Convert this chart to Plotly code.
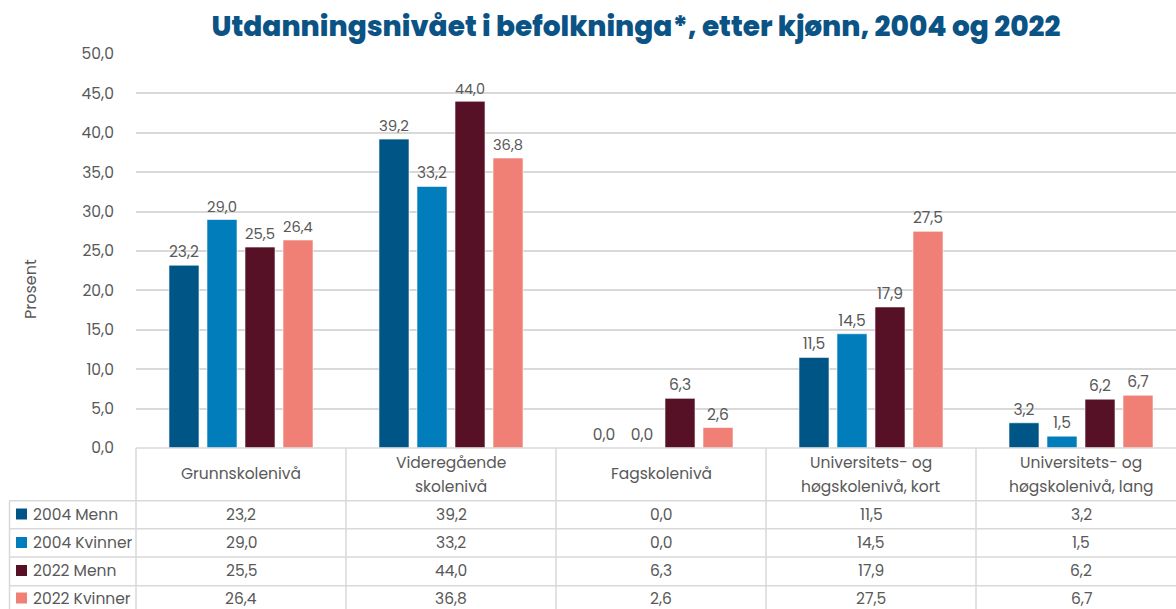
import plotly.graph_objects as go

# ---------------- data ----------------
categories = ["Grunnskolenivå", "Videregående skolenivå", "Fagskolenivå",
              "Universitets- og høgskolenivå, kort", "Universitets- og høgskolenivå, lang"]
header_lines = [["Grunnskolenivå"], ["Videregående", "skolenivå"], ["Fagskolenivå"],
                ["Universitets- og", "høgskolenivå, kort"], ["Universitets- og", "høgskolenivå, lang"]]
series_names = ["2004 Menn", "2004 Kvinner", "2022 Menn", "2022 Kvinner"]
menn_2004 = [23.2, 39.2, 0.0, 11.5, 3.2]
kvinner_2004 = [29.0, 33.2, 0.0, 14.5, 1.5]
menn_2022 = [25.5, 44.0, 6.3, 17.9, 6.2]
kvinner_2022 = [26.4, 36.8, 2.6, 27.5, 6.7]
series_values = [menn_2004, kvinner_2004, menn_2022, kvinner_2022]
colors = ["#005587", "#007DBA", "#561127", "#F08075"]

title_text = "Utdanningsnivået i befolkninga*, etter kjønn, 2004 og 2022"

# ---------------- layout geometry (pixels) ----------------
W, H = 1176, 609
L, T = 136, 54
PB = 448               # bottom of plot area (y=0)
PW = W - L
PH = PB - T
CAT_W = 210            # px per category

FONT = "Poppins, Open Sans, sans-serif"
TXT = "#595959"
GRID = "#d9d9d9"
FS = 15.5


def px_x(px):
    return (px - L) / PW


def px_y(py):
    return (PB - py) / PH


fig = go.Figure()
for name, vals, col in zip(series_names, series_values, colors):
    fig.add_trace(go.Bar(
        name=name, x=categories, y=vals,
        marker=dict(color=col, line=dict(color="rgba(255,255,255,0.6)", width=1)),
        texttemplate="%{y:.1f}", textposition="outside",
        textfont=dict(family=FONT, size=FS, color=TXT),
        cliponaxis=False,
    ))

n_visible = PW / CAT_W
fig.update_layout(
    width=W, height=H,
    margin=dict(l=L, r=0, t=T, b=H - PB),
    paper_bgcolor="white", plot_bgcolor="white",
    barmode="group", bargap=0.276, bargroupgap=0.21,
    showlegend=False,
    separators=", ",
    font=dict(family=FONT, color=TXT, size=FS),
    title=dict(text=title_text, x=636 / W, xanchor="center",
               y=1 - 26 / H, yanchor="middle",
               font=dict(family="Poppins, Open Sans, sans-serif", size=28, weight=800,
                         color="#0B5385")),
    xaxis=dict(type="category", range=[-0.5, -0.5 + n_visible], showticklabels=False,
               showgrid=False, zeroline=False, showline=False, fixedrange=True),
    yaxis=dict(range=[0, 50], dtick=5, tickformat=".1f", showgrid=True,
               gridcolor=GRID, gridwidth=1.5, zeroline=False, showline=False,
               ticks="outside", ticklen=18, tickcolor="rgba(0,0,0,0)",
               tickfont=dict(family=FONT, size=FS, color=TXT)),
)

# y axis title
fig.add_annotation(text="Prosent", xref="paper", yref="paper", x=px_x(30), y=px_y(289),
                   xanchor="center", yanchor="middle",
                   textangle=-90, showarrow=False,
                   font=dict(family=FONT, size=16, color=TXT))

# ---------------- data table ----------------
row_lines = [500.7, 528.7, 557, 585.7]
row_centers = [514, 542.5, 570.5, 598]
line_style = dict(color=GRID, width=1.5)

fig.add_shape(type="line", xref="paper", yref="paper", x0=0, x1=1, y0=0, y1=0, line=line_style)
for yl in row_lines:
    fig.add_shape(type="line", xref="paper", yref="paper", x0=px_x(9.5), x1=1,
                  y0=px_y(yl), y1=px_y(yl), line=line_style)
fig.add_shape(type="line", xref="paper", yref="paper", x0=px_x(9.5), x1=px_x(9.5),
              y0=px_y(row_lines[0]), y1=px_y(H + 2), line=line_style)
for k in range(len(categories)):
    xp = L + k * CAT_W
    if xp < W:
        fig.add_shape(type="line", xref="paper", yref="paper", x0=px_x(xp), x1=px_x(xp),
                      y0=0, y1=px_y(H + 2), line=line_style)

# header row (category labels)
for k, lines in enumerate(header_lines):
    cx = L + (k + 0.5) * CAT_W
    ys = [473] if len(lines) == 1 else [462, 486]
    for ln, yy in zip(lines, ys):
        fig.add_annotation(text=ln, xref="paper", yref="paper", x=px_x(cx), y=px_y(yy),
                           showarrow=False, xanchor="center", yanchor="middle",
                           font=dict(family=FONT, size=FS, color=TXT))

# legend column + values
for i, (name, vals, col) in enumerate(zip(series_names, series_values, colors)):
    yc = row_centers[i]
    fig.add_shape(type="rect", xref="paper", yref="paper",
                  x0=px_x(16), x1=px_x(27), y0=px_y(yc + 5.5), y1=px_y(yc - 5.5),
                  fillcolor=col, line=dict(width=0))
    fig.add_annotation(text=name, xref="paper", yref="paper", x=px_x(31), y=px_y(yc),
                       showarrow=False, xanchor="left", yanchor="middle",
                       font=dict(family=FONT, size=FS, color=TXT))
    for k, v in enumerate(vals):
        cx = L + (k + 0.5) * CAT_W
        fig.add_annotation(text=f"{v:.1f}".replace(".", ","), xref="paper", yref="paper",
                           x=px_x(cx), y=px_y(yc), showarrow=False,
                           xanchor="center", yanchor="middle",
                           font=dict(family=FONT, size=FS, color=TXT))

fig.write_html("out.html")
